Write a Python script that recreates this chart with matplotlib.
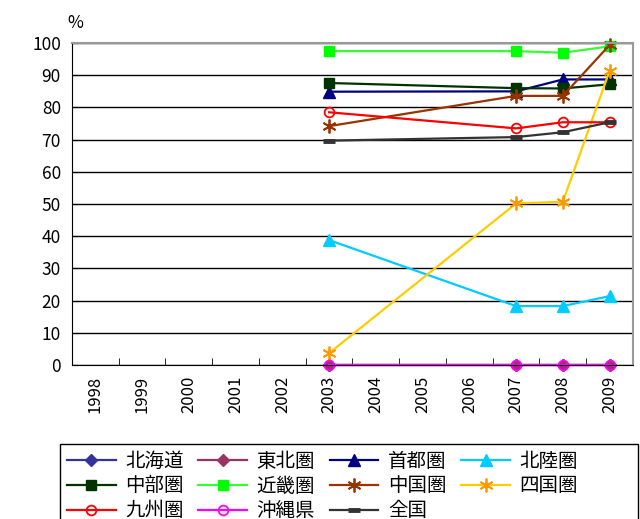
import matplotlib
matplotlib.use("Agg")
import matplotlib.pyplot as plt
from matplotlib.patches import Rectangle
import numpy as np

plt.rcParams['font.family'] = ['Noto Sans CJK JP', 'DejaVu Sans']

years = ['1998', '1999', '2000', '2001', '2002', '2003', '2004', '2005', '2006', '2007', '2008', '2009']
data_years = ['2003', '2007', '2008', '2009']

hokkaido = [0, 0, 0, 0]
tohoku = [0, 0, 0, 0]
shuto = [84.9, 85.0, 88.7, 88.7]
hokuriku = [38.8, 18.3, 18.3, 21.4]
chubu = [87.6, 86.0, 85.9, 87.2]
kinki = [97.5, 97.5, 97.0, 99.0]
chugoku = [74.2, 83.6, 83.6, 99.4]
shikoku = [3.7, 50.2, 50.7, 91.4]
kyushu = [78.5, 73.5, 75.4, 75.4]
okinawa = [0, 0, 0, 0]
zenkoku = [69.7, 70.8, 72.3, 75.4]

names = ['北海道', '東北圏', '首都圏', '北陸圏', '中部圏', '近畿圏', '中国圏', '四国圏', '九州圏', '沖縄県', '全国']
values = [hokkaido, tohoku, shuto, hokuriku, chubu, kinki, chugoku, shikoku, kyushu, okinawa, zenkoku]

styles = [
    dict(color='#333399', marker='D', ms=6, mfc='#333399', mec='#333399'),
    dict(color='#993366', marker='D', ms=6, mfc='#993366', mec='#993366'),
    dict(color='#000080', marker='^', ms=8, mfc='#000080', mec='#000080'),
    dict(color='#00CCFF', marker='^', ms=9, mfc='#00CCFF', mec='#00CCFF'),
    dict(color='#003300', marker='s', ms=7, mfc='#003300', mec='#003300'),
    dict(color='#33FF33', marker='s', ms=7, mfc='#00FF00', mec='#00FF00'),
    dict(color='#993300', marker=(6, 2, 0), ms=10, mfc='#993300', mec='#993300', mew=1.3),
    dict(color='#FFCC00', marker=(6, 2, 0), ms=10, mfc='#FF9900', mec='#FF9900', mew=1.3),
    dict(color='#FF0000', marker='o', ms=7, mfc='none', mec='#FF0000', mew=1.3),
    dict(color='#FF00FF', marker='o', ms=7, mfc='none', mec='#FF00FF', mew=1.3),
    dict(color='#333333', marker='_', ms=9, mfc='#333333', mec='#333333', mew=3.5),
]

fig = plt.figure(figsize=(6.4, 5.19), dpi=100)
ax = fig.add_axes([0.1125, 0.2967, 0.8765, 0.6203])

xpos = [years.index(y) for y in data_years]
handles = []
for name, vals, st in zip(names, values, styles):
    h, = ax.plot(xpos, vals, linewidth=1.6, label=name, clip_on=False, **st)
    handles.append(h)

ax.set_xlim(-0.5, len(years) - 0.5)
ax.set_ylim(0, 100)
ax.set_yticks(np.arange(0, 101, 10))
ax.yaxis.grid(True, color='black', linewidth=1)
ax.set_axisbelow(True)
ax.set_xticks(range(len(years)))
ax.set_xticklabels(years, rotation=90, fontsize=12)
ax.tick_params(axis='x', length=0, pad=8)
ax.set_xticks(np.arange(-0.5, len(years), 1), minor=True)
ax.tick_params(axis='x', which='minor', direction='in', length=5, color='black')
ax.tick_params(axis='y', length=4, direction='in', labelsize=12.5, pad=8)
for s in ['top', 'right']:
    ax.spines[s].set_color('#999999')
    ax.spines[s].set_linewidth(1.5)
for s in ['left', 'bottom']:
    ax.spines[s].set_color('black')

fig.text(0.117, 0.955, '%', fontsize=12.5, ha='center', va='center')

order = [0, 4, 8, 1, 5, 9, 2, 6, 10, 3, 7]
leg = fig.legend([handles[i] for i in order], [names[i] for i in order],
                 ncol=4, loc='upper left', bbox_to_anchor=(0.094, 0.145),
                 fontsize=14, frameon=False,
                 handlelength=2.5, columnspacing=0.75, handletextpad=0.5,
                 labelspacing=0.2, borderpad=0.35, borderaxespad=0)
fig.patches.append(Rectangle((0.094, -0.01), 0.903, 0.1545, transform=fig.transFigure,
                             facecolor='none', edgecolor='black', linewidth=1.0))

fig.savefig('out.png', dpi=100)
